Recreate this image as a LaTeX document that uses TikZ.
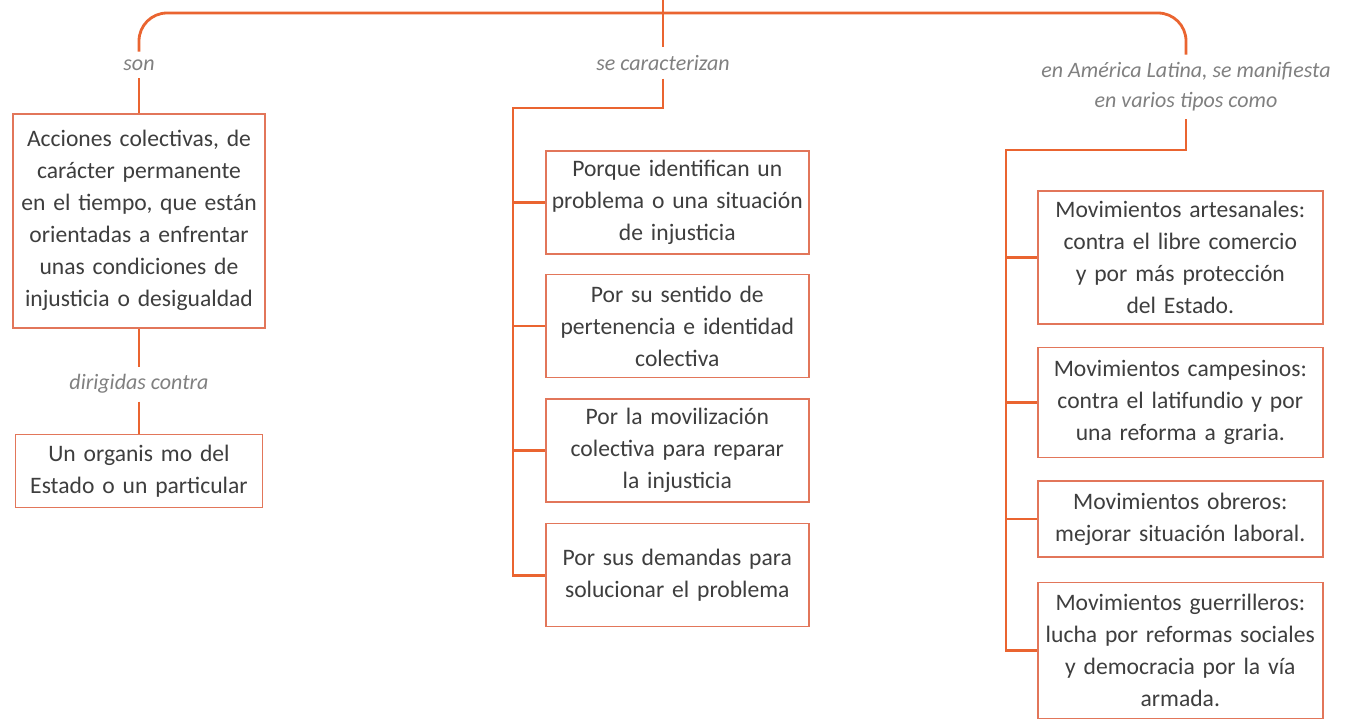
\documentclass[tikz,border=0pt]{standalone}
\usepackage{fontspec}
\setmainfont{Carlito}
\usetikzlibrary{positioning}

\definecolor{linkorange}{RGB}{234,100,48}
\definecolor{boxorange}{RGB}{226,118,90}
\definecolor{textgray}{RGB}{62,62,62}
\definecolor{taggray}{RGB}{128,128,128}

\newcommand\boxfont{\fontsize{11.8}{16}\selectfont\fontdimen2\font=0.15em\relax}

\begin{document}
\begin{tikzpicture}[
    x=0.5pt, y=-0.5pt,
    every node/.style={font=\boxfont, text=textgray},
    box/.style={rectangle, draw=boxorange, fill=white, line width=0.8pt, inner xsep=2pt, align=center},
    abox/.style={box, text width=122pt},
    mbox/.style={box, text width=127.5pt, minimum height=51.5pt},
    rbox/.style={box, text width=138.5pt},
    tag/.style={font=\fontsize{11}{15}\selectfont\itshape, text=taggray, align=center, inner sep=2pt, outer sep=2pt},
    link/.style={draw=linkorange, line width=1.4pt}
]
\path[use as bounding box, fill=white] (0,0) rectangle (1347,719);

% Nodes
\coordinate (root) at (663,0);
\coordinate (hub) at (663,13);
\node[tag] (son) at (139,65) {son};
\node[tag] (carac) at (663,63) {se caracterizan};
\node[tag] (manif) at (1186,87) {en América Latina, se manifiesta\\en varios tipos como};

\node[abox, anchor=north, minimum height=107pt] (accion) at (139,113) {Acciones colectivas, de\\carácter permanente\\en el tiempo, que están\\orientadas a enfrentar\\unas condiciones de\\injusticia o desigualdad};
\node[tag, below=19pt of accion] (dirig) {dirigidas contra};
\node[abox, text width=119.5pt, minimum height=36.5pt, below=16pt of dirig] (organo) {Un organis mo del\\Estado o un particular};

\node[mbox, anchor=north west] (ident) at (545,150) {Porque identifican un\\problema o una situación\\de injusticia};
\node[mbox, below=9.5pt of ident] (perten) {Por su sentido de\\pertenencia e identidad\\colectiva};
\node[mbox, below=10pt of perten] (moviliz) {Por la movilización\\colectiva para reparar\\la injusticia};
\node[mbox, below=10pt of moviliz] (demand) {Por sus demandas para\\solucionar el problema};

\node[rbox, anchor=north west, minimum height=66.5pt] (artes) at (1037,190) {Movimientos artesanales:\\contra el libre comercio\\y por más protección\\del Estado.};
\node[rbox, minimum height=55pt, below=11pt of artes] (campes) {Movimientos campesinos:\\contra el latifundio y por\\una reforma a graria.};
\node[rbox, minimum height=38pt, below=11pt of campes] (obrer) {Movimientos obreros:\\mejorar situación laboral.};
\node[rbox, minimum height=68pt, below=12pt of obrer] (guerr) {Movimientos guerrilleros:\\lucha por reformas sociales\\y democracia por la vía\\armada.};

\coordinate (mfork) at (513,108);
\coordinate (rfork) at (1006,150);

% Paths
\draw[link] (root) -- (carac);
\draw[link, rounded corners=14pt] (son.north) |- (hub) -| (manif.north);
\draw[link] (son) -- (accion);
\draw[link] (accion) -- (dirig);
\draw[link] (dirig) -- (organo);
\draw[link] (carac.south) |- (mfork) |- (demand.west);
\foreach \b in {ident, perten, moviliz}
    \draw[link] (\b.west -| mfork) -- (\b.west);
\draw[link] (manif.south) |- (rfork) |- (guerr.west);
\foreach \b in {artes, campes, obrer}
    \draw[link] (\b.west -| rfork) -- (\b.west);

\end{tikzpicture}
\end{document}
